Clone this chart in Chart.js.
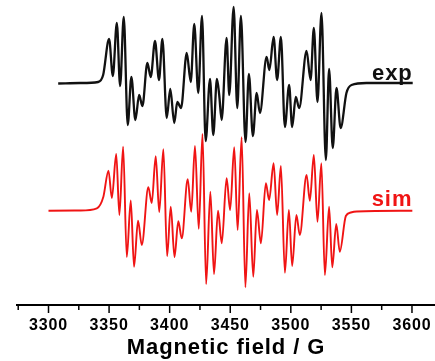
<!DOCTYPE html>
<html lang="en">
<head>
  <meta charset="UTF-8">
  <title>EPR spectrum</title>
  <script src="https://cdn.jsdelivr.net/npm/chart.js"></script>
  <style>
    body {
      margin: 0;
      padding: 0;
      background-color: #fff;
    }
    canvas {
      display: block;
    }
  </style>
</head>
<body>
  <canvas id="eprChart" width="435" height="361"></canvas>
  <script>
    // field in G, signal in arbitrary units (baseline = 0)
    const expField = [3308.0, 3326.1, 3341.0, 3345.1, 3350.0, 3353.1, 3356.4, 3359.1, 3362.1, 3365.4,
      3368.4, 3371.7, 3374.8, 3377.5, 3381.6, 3384.4, 3387.9, 3391.2, 3394.0, 3397.6,
      3400.5, 3403.8, 3406.3, 3409.4, 3414.1, 3417.4, 3420.3, 3423.6, 3426.7, 3429.7,
      3433.3, 3436.0, 3439.0, 3440.9, 3442.9, 3447.0, 3449.2, 3452.8, 3455.8, 3458.8,
      3462.6, 3465.4, 3468.7, 3471.8, 3474.5, 3480.0, 3482.3, 3485.8, 3488.7, 3491.8,
      3495.1, 3498.6, 3501.1, 3504.1, 3506.9, 3513.0, 3516.3, 3519.0, 3522.0, 3525.3,
      3528.9, 3531.6, 3534.6, 3537.7, 3541.1, 3545.9, 3550.1, 3562.4, 3600.6];
    const expSignal = [-0.05, 0, 0.1, 0.8, 4.4, 0.7, 6.0, -0.3, 6.6, -4.2,
      0.6, -3.7, -1.2, -2.3, 2.0, 0.6, 4.2, 0.3, 4.4, -3.5,
      -0.6, -4.0, -1.9, -2.5, 3.0, 0.1, 5.9, -1.0, 6.7, -5.8,
      0.4, -5.2, 0.4, -1.2, -3.7, 4.5, -1.2, 7.6, -2.5, 6.7,
      -5.9, 0.9, -5.3, -1.0, -3.0, 2.6, 1.3, 4.6, 0.3, 4.6,
      -4.4, -0.2, -4.4, -1.4, -2.5, 3.2, 0.3, 5.5, -1.9, 7.0,
      -7.7, 1.4, -6.5, -0.5, -4.5, -1.0, -0.2, 0, 0];

    const simField = [3300.0, 3326.1, 3339.9, 3345.3, 3349.5, 3352.3, 3355.9, 3358.5, 3361.6, 3364.6,
      3367.9, 3370.6, 3373.9, 3377.0, 3382.4, 3385.2, 3388.5, 3391.4, 3394.8, 3397.9,
      3400.9, 3404.0, 3407.1, 3410.0, 3414.9, 3417.8, 3420.9, 3424.0, 3427.1, 3430.1,
      3433.6, 3436.6, 3439.9, 3443.0, 3447.0, 3449.9, 3453.3, 3456.1, 3459.4, 3462.5,
      3465.7, 3469.0, 3472.0, 3475.3, 3479.4, 3482.1, 3485.8, 3488.7, 3491.8, 3495.1,
      3498.4, 3501.1, 3504.6, 3507.4, 3513.0, 3515.7, 3519.0, 3522.0, 3525.2, 3528.1,
      3531.6, 3534.2, 3537.5, 3540.4, 3545.4, 3549.5, 3554.4, 3600.3];
    const simSignal = [0.03, 0.05, 0.27, 1.43, 4.03, 1.3, 5.7, -0.4, 6.43, -4.6,
      1.05, -5.57, -0.97, -3.4, 2.37, 0.8, 5.47, -0.1, 6.17, -4.5,
      0.43, -4.6, -1.02, -2.73, 3.17, -0.07, 6.5, -1.78, 7.7, -7.3,
      1.93, -6.3, 0.03, -3.23, 3.27, 0.1, 6.37, -1.9, 7.37, -7.63,
      1.77, -6.57, 0.1, -3.23, 2.77, 1.1, 4.77, -0.4, 4.5, -6.17,
      0.1, -5.5, -0.4, -2.4, 3.6, 1.03, 5.6, -1.07, 4.77, -6.4,
      0.43, -5.63, -1.3, -4.07, -0.5, -0.15, -0.05, 0.03];

    const fieldTicks = [3300, 3350, 3400, 3450, 3500, 3550, 3600];

    const expOffset = 12.8;
    const expColor = '#111';
    const simColor = '#f01414';

    function toPoints(xs, ys, shift) {
      return xs.map((x, i) => ({ x: x, y: ys[i] + shift }));
    }

    // text in the picture is a bit wider than the plain font
    const spacingPlugin = {
      id: 'spacing',
      beforeDraw(chart) {
        chart.ctx.letterSpacing = '0.9px';
      }
    };

    const tickPlugin = {
      id: 'tickMarks',
      afterDraw(chart) {
        const ctx = chart.ctx;
        const scale = chart.scales.x;
        ctx.save();
        ctx.strokeStyle = '#000';
        ctx.lineWidth = 1.5;
        for (let v = 3275; v <= scale.max; v += 25) {
          const px = scale.getPixelForValue(v);
          const len = fieldTicks.includes(v) ? 8 : 5;
          ctx.beginPath();
          ctx.moveTo(px, scale.top);
          ctx.lineTo(px, scale.top + len);
          ctx.stroke();
        }
        ctx.restore();
      }
    };

    const tracePlugin = {
      id: 'traceLabels',
      afterDatasetsDraw(chart) {
        const ctx = chart.ctx;
        const xs = chart.scales.x;
        const ys = chart.scales.y;
        ctx.save();
        ctx.font = 'bold 22px "Liberation Sans", Arial, sans-serif';
        ctx.textAlign = 'right';
        ctx.textBaseline = 'alphabetic';
        ctx.fillStyle = expColor;
        ctx.fillText('exp', xs.getPixelForValue(3600.6), ys.getPixelForValue(expOffset) - 3);
        ctx.fillStyle = simColor;
        ctx.fillText('sim', xs.getPixelForValue(3600.3), ys.getPixelForValue(0) - 5);
        ctx.restore();
      }
    };

    const ctx = document.getElementById('eprChart').getContext('2d');
    new Chart(ctx, {
      type: 'line',
      data: {
        datasets: [{
          label: 'exp',
          data: toPoints(expField, expSignal, expOffset),
          borderColor: expColor,
          borderWidth: 2.3,
          pointRadius: 0,
          cubicInterpolationMode: 'monotone',
          fill: false
        }, {
          label: 'sim',
          data: toPoints(simField, simSignal, 0),
          borderColor: simColor,
          borderWidth: 1.9,
          pointRadius: 0,
          cubicInterpolationMode: 'monotone',
          fill: false
        }]
      },
      options: {
        responsive: false,
        animation: false,
        layout: { padding: { left: 17, right: 0, top: 0, bottom: 0 } },
        plugins: {
          legend: { display: false },
          tooltip: { enabled: false }
        },
        scales: {
          x: {
            type: 'linear',
            min: 3274,
            max: 3619,
            afterFit: function(scale) {
              scale.height = 56;
            },
            border: { display: true, color: '#000', width: 2 },
            grid: {
              drawOnChartArea: false,
              tickLength: 8,
              tickColor: 'rgba(0,0,0,0)'
            },
            ticks: {
              stepSize: 25,
              includeBounds: false,
              autoSkip: false,
              maxRotation: 0,
              padding: 3,
              color: '#000',
              font: { family: '"Liberation Sans", Arial, sans-serif', size: 16, weight: 'bold' },
              callback: function(value) {
                return fieldTicks.includes(value) ? String(value) : '';
              }
            },
            title: {
              display: true,
              text: 'Magnetic field / G',
              color: '#000',
              padding: { top: 0, bottom: 0 },
              font: { family: '"Liberation Sans", Arial, sans-serif', size: 22, weight: 'bold', lineHeight: 1.2 }
            }
          },
          y: {
            display: false,
            min: -9.4,
            max: 21.1
          }
        }
      },
      plugins: [spacingPlugin, tickPlugin, tracePlugin]
    });
  </script>
</body>
</html>
